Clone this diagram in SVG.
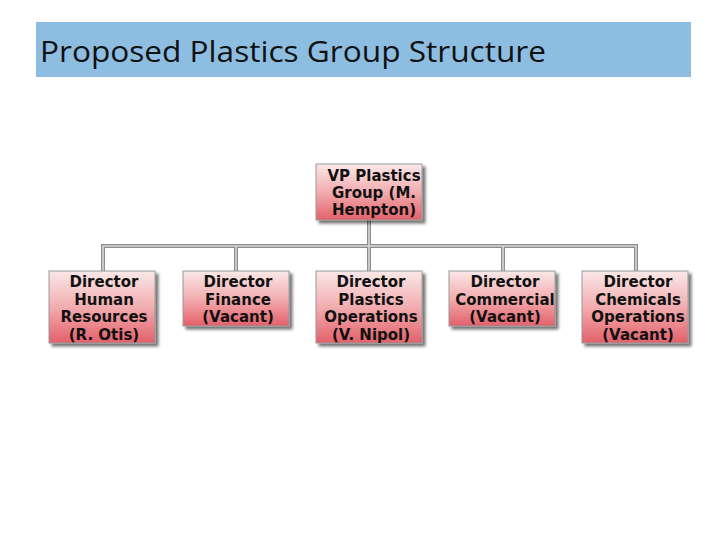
<svg xmlns="http://www.w3.org/2000/svg" width="728" height="546" viewBox="0 0 728 546">
<style>
.box{fill:url(#g);stroke:#9a9a9a;stroke-width:1;filter:url(#sh)}
.t{font-family:"DejaVu Sans",Verdana,sans-serif;font-weight:bold;font-size:15px;fill:#111;text-anchor:middle}
.co{fill:none;stroke:#8c8c8c;stroke-width:4}
.ci{fill:none;stroke:#d8d8d8;stroke-width:1.6}
</style>
<defs>
<linearGradient id="g" x1="0" y1="0" x2="0" y2="1">
<stop offset="0" stop-color="#fae8e8"/>
<stop offset="0.5" stop-color="#f2adb0"/>
<stop offset="1" stop-color="#e3606a"/>
</linearGradient>
<filter id="sh" x="-10%" y="-10%" width="130%" height="130%">
<feDropShadow dx="3" dy="3" stdDeviation="1.5" flood-color="#000" flood-opacity="0.55"/>
</filter>
</defs>
<rect width="728" height="546" fill="#fff"/>
<g id="title">
<rect x="36" y="22" width="655" height="55" fill="#8dbee2"/>
<text x="40" y="62" font-family="'Open Sans','Liberation Sans',sans-serif" font-size="29" fill="#111" textLength="506" lengthAdjust="spacingAndGlyphs">Proposed Plastics Group Structure</text>
</g>
<g id="connectors">
<path class="co" d="M369 220V271M103 271V246H636V271M236 246V271M503 246V271"/>
<path class="ci" d="M369 220V271M103 271V246H636V271M236 246V271M503 246V271"/>
</g>
<g id="vp">
<rect class="box" x="316" y="164" width="106" height="56"/>
<text class="t" x="374" y="181">VP Plastics</text>
<text class="t" x="374" y="198">Group (M.</text>
<text class="t" x="374" y="215">Hempton)</text>
</g>
<g id="hr">
<rect class="box" x="49" y="271" width="106" height="72"/>
<text class="t" x="104" y="287">Director</text>
<text class="t" x="104" y="304.5">Human</text>
<text class="t" x="104" y="322">Resources</text>
<text class="t" x="104" y="339.5">(R. Otis)</text>
</g>
<g id="finance">
<rect class="box" x="183" y="271" width="106" height="55"/>
<text class="t" x="238" y="287">Director</text>
<text class="t" x="238" y="304.5">Finance</text>
<text class="t" x="238" y="322">(Vacant)</text>
</g>
<g id="plastics">
<rect class="box" x="316" y="271" width="106" height="72"/>
<text class="t" x="371" y="287">Director</text>
<text class="t" x="371" y="304.5">Plastics</text>
<text class="t" x="371" y="322">Operations</text>
<text class="t" x="371" y="339.5">(V. Nipol)</text>
</g>
<g id="commercial">
<rect class="box" x="449" y="271" width="106" height="55"/>
<text class="t" x="505" y="287">Director</text>
<text class="t" x="505" y="304.5">Commercial</text>
<text class="t" x="505" y="322">(Vacant)</text>
</g>
<g id="chemicals">
<rect class="box" x="582" y="271" width="106" height="72"/>
<text class="t" x="638" y="287">Director</text>
<text class="t" x="638" y="304.5">Chemicals</text>
<text class="t" x="638" y="322">Operations</text>
<text class="t" x="638" y="339.5">(Vacant)</text>
</g>
</svg>
